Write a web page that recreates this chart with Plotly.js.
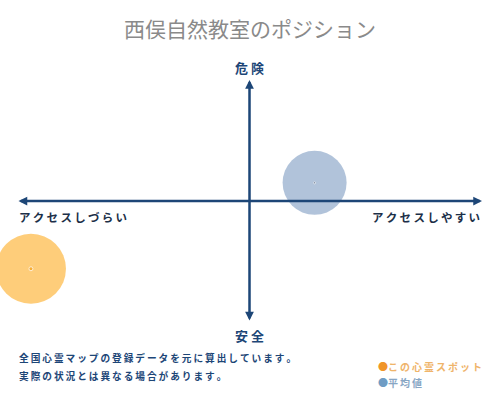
<!DOCTYPE html>
<html>
<head>
<meta charset="utf-8">
<script src="https://cdn.plot.ly/plotly-3.0.1.min.js"></script>
<style>
  html, body { margin: 0; padding: 0; background: #fff; }
  #chart { width: 500px; height: 400px; }
</style>
</head>
<body>
<div id="chart"></div>
<script>
"use strict";

// positions on the two axes (access: -1 hard .. 1 easy, danger: -1 safe .. 1 dangerous)
const spotNames = ["この心霊スポット", "平均値"];
const accessValues = [-0.94, 0.28];
const dangerValues = [-0.56, 0.15];

const titleText = "西俣自然教室のポジション";
const axisLabels = { top: "危険", bottom: "安全", left: "アクセスしづらい", right: "アクセスしやすい" };
const noteLines = ["全国心霊マップの登録データを元に算出しています。", "実際の状況とは異なる場合があります。"];

const navy = "#1d4677";
const fontFamily = "'Noto Sans CJK JP', 'Noto Sans', sans-serif";

// spread characters a little, like the original lettering
function spaced(s, gap) {
  return s.split("").join(gap || "\u2009");
}

// plot area is 242px tall, convert pixel offsets from its bottom edge to paper units
const px = (v) => v / 242;

const data = [
  {
    x: [accessValues[0]],
    y: [dangerValues[0]],
    type: "scatter",
    mode: "markers",
    cliponaxis: false,
    marker: { size: 70, color: "rgba(253,186,70,0.72)" },
    hoverinfo: "skip",
  },
  {
    x: [accessValues[1]],
    y: [dangerValues[1]],
    type: "scatter",
    mode: "markers",
    cliponaxis: false,
    marker: { size: 64, color: "rgba(120,152,192,0.58)" },
    hoverinfo: "skip",
  },
  {
    x: accessValues,
    y: dangerValues,
    type: "scatter",
    mode: "markers",
    cliponaxis: false,
    marker: { size: [4, 2], color: ["#f5a11a", "#1a2a44"] },
    hoverinfo: "skip",
  },
];

const annotations = [
  // horizontal double arrow
  {
    x: 1, y: 0, ax: -1, ay: 0,
    xref: "x", yref: "y", axref: "x", ayref: "y",
    text: "", showarrow: true, arrowhead: 2, arrowside: "end+start",
    arrowsize: 0.7, arrowwidth: 2.5, arrowcolor: navy,
  },
  // vertical double arrow
  {
    x: 0, y: 1, ax: 0, ay: -1,
    xref: "x", yref: "y", axref: "x", ayref: "y",
    text: "", showarrow: true, arrowhead: 2, arrowside: "end+start",
    arrowsize: 0.7, arrowwidth: 2.5, arrowcolor: navy,
  },
  {
    x: 0.5, y: 1 + px(13), xref: "paper", yref: "paper", yanchor: "middle",
    text: "<b>" + spaced(axisLabels.top, " ") + "</b>", showarrow: false,
    font: { size: 13, color: navy, family: fontFamily },
  },
  {
    x: 0.5, y: -px(13), xref: "paper", yref: "paper", yanchor: "middle",
    text: "<b>" + spaced(axisLabels.bottom, " ") + "</b>", showarrow: false,
    font: { size: 13, color: navy, family: fontFamily },
  },
  {
    x: 0, y: 0.5 - px(16), xref: "paper", yref: "paper", xanchor: "left", yanchor: "middle",
    text: "<b>" + spaced(axisLabels.left) + "</b>", showarrow: false,
    font: { size: 11.5, color: "#1c2f48", family: fontFamily },
  },
  {
    x: 1, y: 0.5 - px(16), xref: "paper", yref: "paper", xanchor: "right", yanchor: "middle",
    text: "<b>" + spaced(axisLabels.right) + "</b>", showarrow: false,
    font: { size: 11.5, color: "#1c2f48", family: fontFamily },
  },
  {
    x: 0, y: -px(36), xref: "paper", yref: "paper", xanchor: "left", yanchor: "middle",
    text: "<b>" + spaced(noteLines[0]) + "</b>", showarrow: false,
    font: { size: 9.7, color: navy, family: fontFamily },
  },
  {
    x: 0, y: -px(54), xref: "paper", yref: "paper", xanchor: "left", yanchor: "middle",
    text: "<b>" + spaced(noteLines[1]) + "</b>", showarrow: false,
    font: { size: 9.7, color: navy, family: fontFamily },
  },
  {
    x: (376 - 17) / 465, y: -px(44), xref: "paper", yref: "paper", xanchor: "left", yanchor: "middle",
    text: "<span style='color:#f0952a'>●</span><b>" + spaced(spotNames[0]) + "</b>", showarrow: false,
    font: { size: 10, color: "#efb46a", family: fontFamily },
  },
  {
    x: (376 - 17) / 465, y: -px(60), xref: "paper", yref: "paper", xanchor: "left", yanchor: "middle",
    text: "<span style='color:#6f9cc4'>●</span><b>" + spaced(spotNames[1]) + "</b>", showarrow: false,
    font: { size: 10, color: "#88a6c4", family: fontFamily },
  },
];

const layout = {
  width: 500,
  height: 400,
  margin: { l: 17, r: 18, t: 80, b: 78 },
  paper_bgcolor: "#ffffff",
  plot_bgcolor: "#ffffff",
  showlegend: false,
  title: {
    text: titleText,
    x: 0.5,
    y: 1 - 30 / 400,
    xanchor: "center",
    yanchor: "middle",
    font: { size: 21, color: "#8a8a8a", family: fontFamily },
  },
  xaxis: {
    range: [-1, 1],
    showgrid: false,
    zeroline: false,
    showticklabels: false,
    showline: false,
    fixedrange: true,
  },
  yaxis: {
    range: [-1, 1],
    showgrid: false,
    zeroline: false,
    showticklabels: false,
    showline: false,
    fixedrange: true,
  },
  annotations,
};

Plotly.newPlot("chart", data, layout, { displayModeBar: false, staticPlot: true });
</script>
</body>
</html>
